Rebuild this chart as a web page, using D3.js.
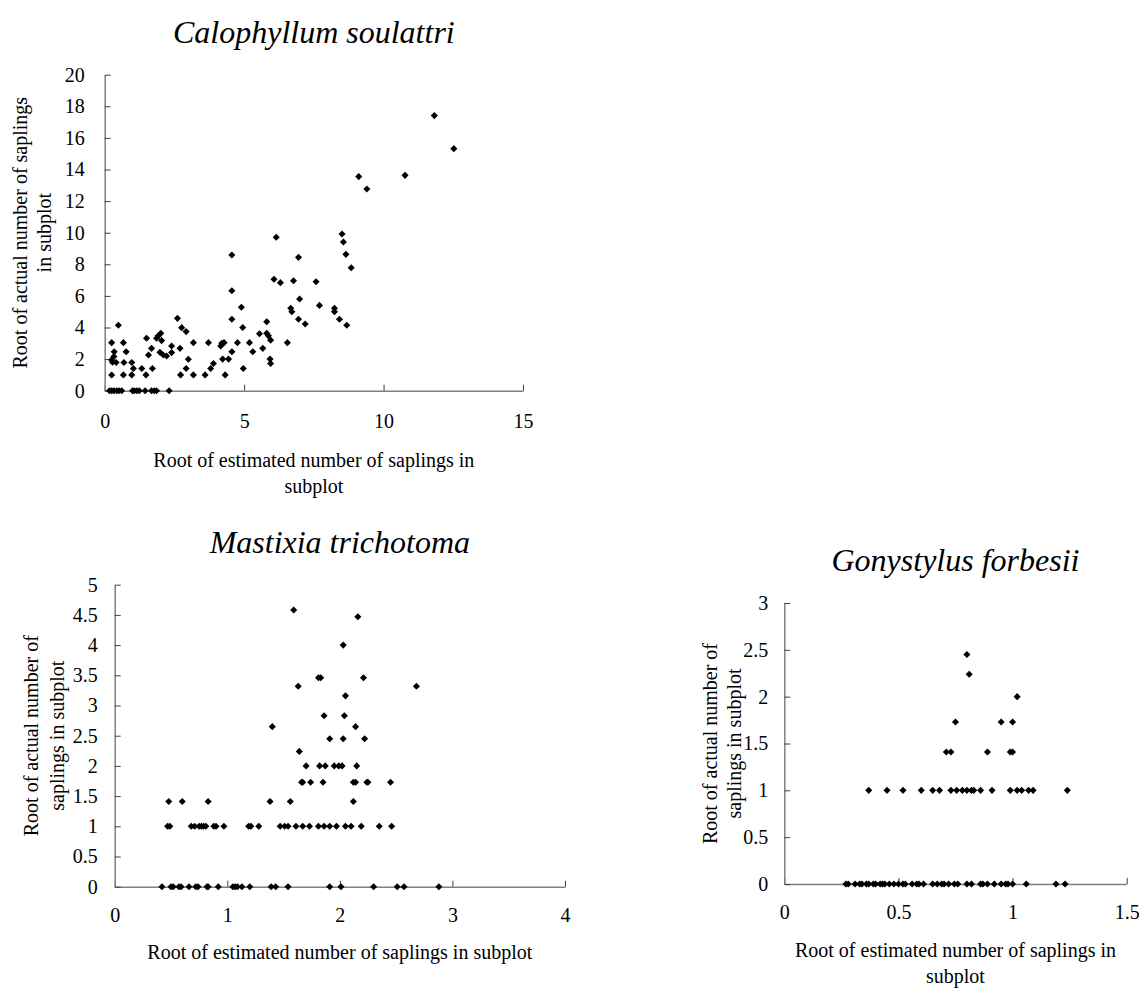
<!DOCTYPE html>
<html>
<head>
<meta charset="utf-8">
<script src="https://cdn.jsdelivr.net/npm/d3@7"></script>
<style>
    body { margin: 0; background: #fff; }
    svg text { font-family: "Liberation Serif", "Times New Roman", serif; fill: #000; }
</style>
</head>
<body>
<div class="graphic"></div>
<script>
// [x, y] pairs
var calophyllumPoints = [
    [0.17, 0], [0.25, 0], [0.33, 0], [0.43, 0], [0.51, 0], [0.61, 0], [1.0, 0], [1.06, 0],
    [1.15, 0], [1.24, 0], [1.45, 0], [1.68, 0], [1.78, 0], [1.86, 0], [2.31, 0],
    [0.25, 3.04], [0.49, 4.14], [0.34, 2.47], [0.33, 2.16], [0.25, 1.95], [0.41, 1.78],
    [0.28, 1.8], [0.25, 0.99], [0.67, 3.04], [0.77, 2.47], [0.69, 1.78], [0.67, 1.0],
    [0.97, 1.78], [1.03, 1.41], [0.97, 1.0], [1.33, 1.41], [1.48, 1.0], [1.5, 3.32],
    [1.57, 2.26], [1.68, 2.68], [1.71, 1.41], [1.86, 3.32], [1.92, 3.47], [2.01, 3.63],
    [2.04, 3.17], [1.98, 2.43], [2.1, 2.26], [2.22, 2.2], [2.4, 2.83], [2.4, 2.41],
    [2.61, 4.58], [2.76, 3.99], [2.7, 2.68], [2.92, 3.74], [3.0, 1.99], [2.72, 1.0],
    [2.92, 1.41], [3.18, 3.04], [3.18, 1.0], [3.6, 1.0], [3.72, 3.04], [3.8, 1.41],
    [3.9, 1.72], [4.16, 2.83], [4.2, 3.0], [4.28, 3.04], [4.32, 1.0], [4.23, 2.0],
    [4.44, 2.0], [4.56, 2.47], [4.56, 4.52], [4.56, 6.33], [4.56, 8.59], [4.76, 3.04],
    [4.9, 5.28], [4.95, 4.0], [4.97, 1.41], [5.19, 3.04], [5.31, 2.47], [5.55, 3.6],
    [5.67, 2.68], [5.81, 4.36], [5.81, 3.63], [5.87, 3.47], [5.95, 3.2], [5.93, 2.0],
    [5.95, 1.72], [6.07, 7.05], [6.15, 9.71], [6.3, 6.84], [6.55, 3.04], [6.67, 5.22],
    [6.71, 5.0], [6.77, 6.96], [6.95, 8.44], [6.99, 5.8], [6.95, 4.52], [7.19, 4.22],
    [7.58, 6.9], [7.7, 5.4], [8.24, 5.22], [8.24, 5.0], [8.42, 4.52], [8.68, 4.14],
    [8.51, 9.92], [8.56, 9.41], [8.65, 8.63], [8.84, 7.78], [9.11, 13.55], [9.4, 12.77],
    [10.77, 13.63], [11.82, 17.41], [12.52, 15.32]
];

var mastixiaPoints = [
    [0.42, 0], [0.5, 0], [0.52, 0], [0.57, 0], [0.59, 0], [0.66, 0], [0.72, 0], [0.74, 0],
    [0.82, 0], [0.83, 0], [0.92, 0], [1.05, 0], [1.07, 0], [1.09, 0], [1.13, 0], [1.2, 0],
    [1.39, 0], [1.43, 0], [1.54, 0], [1.91, 0], [2.01, 0], [2.3, 0], [2.51, 0], [2.57, 0],
    [2.88, 0],
    [0.47, 1], [0.49, 1], [0.68, 1], [0.71, 1], [0.75, 1], [0.77, 1], [0.79, 1], [0.81, 1],
    [0.88, 1], [0.9, 1], [0.97, 1], [1.19, 1], [1.21, 1], [1.28, 1], [1.47, 1], [1.51, 1],
    [1.54, 1], [1.61, 1], [1.67, 1], [1.73, 1], [1.81, 1], [1.86, 1], [1.91, 1], [1.97, 1],
    [2.05, 1], [2.1, 1], [2.19, 1], [2.35, 1], [2.46, 1],
    [0.48, 1.41], [0.6, 1.41], [0.83, 1.41], [1.38, 1.41], [1.56, 1.41], [2.12, 1.41],
    [1.66, 1.73], [1.67, 1.73], [1.74, 1.73], [1.85, 1.73], [2.12, 1.73], [2.14, 1.73],
    [2.24, 1.73], [2.25, 1.73], [2.45, 1.73],
    [1.7, 2], [1.82, 2], [1.87, 2], [1.95, 2], [1.99, 2], [2.02, 2], [2.15, 2],
    [1.64, 2.24], [1.91, 2.45], [2.03, 2.45], [2.22, 2.45], [1.4, 2.65], [2.14, 2.65],
    [1.86, 2.83], [2.04, 2.83], [2.05, 3.16], [1.63, 3.32], [2.68, 3.32],
    [1.81, 3.46], [1.83, 3.46], [2.21, 3.46], [2.03, 4], [2.16, 4.47], [1.59, 4.58]
];

var gonystylusPoints = [
    [0.27, 0], [0.28, 0], [0.31, 0], [0.33, 0], [0.34, 0], [0.36, 0], [0.37, 0], [0.39, 0],
    [0.4, 0], [0.42, 0], [0.43, 0], [0.44, 0], [0.46, 0], [0.48, 0], [0.5, 0], [0.52, 0],
    [0.53, 0], [0.56, 0], [0.58, 0], [0.59, 0], [0.61, 0], [0.65, 0], [0.67, 0], [0.69, 0],
    [0.7, 0], [0.72, 0], [0.745, 0], [0.76, 0], [0.8, 0], [0.82, 0], [0.86, 0], [0.87, 0],
    [0.89, 0], [0.92, 0], [0.95, 0], [0.97, 0], [0.98, 0], [1.0, 0], [1.06, 0], [1.19, 0],
    [1.23, 0],
    [0.37, 1], [0.45, 1], [0.52, 1], [0.6, 1], [0.65, 1], [0.68, 1], [0.73, 1], [0.755, 1],
    [0.78, 1], [0.8, 1], [0.82, 1], [0.83, 1], [0.86, 1], [0.91, 1], [0.99, 1], [1.02, 1],
    [1.04, 1], [1.07, 1], [1.09, 1], [1.24, 1],
    [0.71, 1.41], [0.73, 1.41], [0.89, 1.41], [0.99, 1.41], [1.0, 1.41],
    [0.75, 1.73], [0.95, 1.73], [1.0, 1.73], [1.02, 2], [0.81, 2.24], [0.8, 2.45]
];

var calophyllumXTicks = [0, 5, 10, 15];
var calophyllumYTicks = [0, 2, 4, 6, 8, 10, 12, 14, 16, 18, 20];
var mastixiaXTicks = [0, 1, 2, 3, 4];
var mastixiaYTicks = [0, 0.5, 1, 1.5, 2, 2.5, 3, 3.5, 4, 4.5, 5];
var gonystylusXTicks = [0, 0.5, 1, 1.5];
var gonystylusYTicks = [0, 0.5, 1, 1.5, 2, 2.5, 3];

var panels = [
    {
        title: "Calophyllum soulattri", points: calophyllumPoints,
        xTicks: calophyllumXTicks, yTicks: calophyllumYTicks,
        left: 104.7, top: 74.7, width: 418.3, height: 316,
        xTitle: ["Root of estimated number of saplings in", "subplot"],
        yTitle: ["Root of actual number of saplings", "in subplot"],
        yTitleX: [20, 44], yPad: 20, xPad: 23, xTitleY: 76
    },
    {
        title: "Mastixia trichotoma", points: mastixiaPoints,
        xTicks: mastixiaXTicks, yTicks: mastixiaYTicks,
        left: 114.7, top: 584.7, width: 450.3, height: 302,
        xTitle: ["Root of estimated number of saplings in subplot"],
        yTitle: ["Root of actual number of", "saplings in subplot"],
        yTitleX: [31, 57], yPad: 17, xPad: 21, xTitleY: 72
    },
    {
        title: "Gonystylus forbesii", points: gonystylusPoints,
        xTicks: gonystylusXTicks, yTicks: gonystylusYTicks,
        left: 784.3, top: 603, width: 342.4, height: 281,
        xTitle: ["Root of estimated number of saplings in", "subplot"],
        yTitle: ["Root of actual number of", "saplings in subplot"],
        yTitleX: [710, 734], yPad: 16, xPad: 21, xTitleY: 73
    }
];

var svg = d3.select(".graphic")
    .append("svg")
    .attr("width", 1139)
    .attr("height", 990);

var diamond = d3.symbol().type(d3.symbolDiamond2).size(32);

panels.forEach(function (p) {
    var x_scale = d3.scaleLinear()
        .domain(d3.extent(p.xTicks))
        .range([0, p.width]);
    var y_scale = d3.scaleLinear()
        .domain(d3.extent(p.yTicks))
        .range([p.height, 0]);

    var g = svg.append("g")
        .attr("transform", `translate(${p.left},${p.top})`);

    // ticks point inward like the Excel original
    var xAxis = g.append("g")
        .attr("transform", `translate(0,${p.height})`)
        .call(d3.axisBottom(x_scale)
            .tickValues(p.xTicks)
            .tickSize(-6)
            .tickSizeOuter(0)
            .tickPadding(p.xPad)
            .tickFormat(d3.format("")));

    var yAxis = g.append("g")
        .call(d3.axisLeft(y_scale)
            .tickValues(p.yTicks)
            .tickSize(-6)
            .tickSizeOuter(0)
            .tickPadding(p.yPad)
            .tickFormat(d3.format("")));

    [xAxis, yAxis].forEach(function (a) {
        a.select(".domain").attr("stroke", "#808080").attr("stroke-width", 1.5);
        a.selectAll(".tick line").attr("stroke", "#404040");
        a.selectAll(".tick text")
            .style("font-size", "20px")
            .attr("fill", "#000");
    });

    g.append("g")
        .selectAll("path")
        .data(p.points)
        .join("path")
        .attr("d", diamond)
        .attr("transform", (d) => `translate(${x_scale(d[0])},${y_scale(d[1])})`)
        .attr("fill", "#000");

    g.append("text")
        .attr("x", p.width / 2)
        .attr("y", -32)
        .attr("text-anchor", "middle")
        .style("font-size", "32px")
        .style("font-style", "italic")
        .text(p.title);

    p.xTitle.forEach(function (line, i) {
        g.append("text")
            .attr("x", p.width / 2)
            .attr("y", p.height + p.xTitleY + i * 26)
            .attr("text-anchor", "middle")
            .style("font-size", "20px")
            .text(line);
    });

    p.yTitle.forEach(function (line, i) {
        g.append("text")
            .attr("transform", `translate(${p.yTitleX[i] - p.left},${p.height / 2}) rotate(-90)`)
            .attr("text-anchor", "middle")
            .attr("dy", "0.35em")
            .style("font-size", "20px")
            .text(line);
    });
});
</script>
</body>
</html>
